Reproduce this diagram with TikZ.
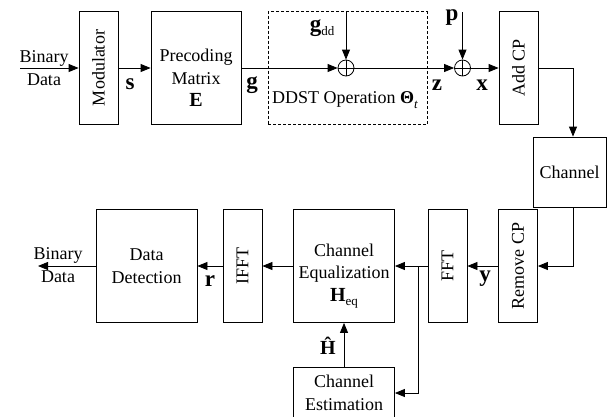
\documentclass[tikz,border=0pt]{standalone}
\usepackage{fontspec}
\setmainfont{Liberation Serif}
\usetikzlibrary{arrows.meta}
\newcommand{\vb}[1]{{\fontsize{23}{23}\selectfont\textbf{#1}}}
\newcommand{\lowsub}[1]{\raisebox{-0.55ex}{\fontsize{13}{13}\selectfont #1}}
\begin{document}
\begin{tikzpicture}[x=1pt,y=-1pt,line width=0.8pt,
  font=\fontsize{18}{22.5}\selectfont,
  blk/.style={draw, rectangle, inner sep=0pt, align=center},
  vblk/.style={blk, minimum width=39pt, minimum height=113pt},
  wblk/.style={blk, minimum width=101pt, minimum height=113pt},
  txt/.style={align=center, inner sep=0pt},
  adder/.style={draw, circle, inner sep=0pt, minimum size=16pt},
  arr/.style={-{Triangle[length=10pt,width=8pt]}}]
\useasboundingbox (0,0) rectangle (610,416);
% transmitter
\node[vblk] (mod) at (98.5,68){\rotatebox{90}{Modulator}};
\node[blk, minimum width=90pt, minimum height=113pt] (prec) at (196,68){};
\node[txt] (prectxt) at (196,78){Precoding\\Matrix\\{\fontsize{20}{20}\selectfont\textbf{E}}};
\node[blk, dashed, dash pattern=on 3pt off 2pt, minimum width=159pt, minimum height=113pt] (ddst) at (347.5,68){};
\node (ddstlab) at (345,100){DDST Operation \textbf{Θ}\lowsub{\textit{t}}};
\node[adder] (sum1) at (346,68){};
\draw (sum1.north) -- (sum1.south) (sum1.west) -- (sum1.east);
\node[adder] (sum2) at (462.5,68){};
\draw (sum2.north) -- (sum2.south) (sum2.west) -- (sum2.east);
\node[vblk] (addcp) at (518.5,68){\rotatebox{90}{Add CP}};
\node[blk, minimum width=73pt, minimum height=70pt] (chan) at (569.5,172){Channel};
% receiver
\node[vblk] (rmcp) at (518,266){\rotatebox{90}{Remove CP}};
\node[vblk] (fft) at (447.5,266){\rotatebox{90}{FFT}};
\node[wblk] (eq) at (344,266){};
\node[txt] (eqtxt) at (344,276){Channel\\Equalization\\{\fontsize{20}{20}\selectfont\textbf{H}}\lowsub{eq}};
\node[vblk] (ifft) at (242.5,266){\rotatebox{90}{IFFT}};
\node[wblk] (det) at (146.5,266){Data\\Detection};
\node[blk, minimum width=101pt, minimum height=52pt] (est) at (344,393){Channel\\Estimation};
% end points
\coordinate (in) at (20,68);
\coordinate (out) at (38,266);
\coordinate (gdd) at (346,12);
\coordinate (pin) at (462.5,12);
\coordinate (c1) at (573,68);
\coordinate (c2) at (573,207);
\coordinate (c3) at (573,266);
\coordinate (br) at (418,266);
\node[txt] (bin1) at (44,68){Binary\\Data};
\node[txt] (bin2) at (58,265){Binary\\Data};
% connectors
\draw[arr] (in) -- (mod);
\draw[arr] (mod) -- (prec);
\draw[arr] (prec) -- (sum1);
\draw[arr] (gdd) -- (sum1);
\draw[arr] (sum1) -- (sum2);
\draw[arr] (pin) -- (sum2);
\draw[arr] (sum2) -- (addcp);
\draw[arr] (addcp.east) -- (c1) -- (c1 |- chan.north);
\draw[arr] (c2) -- (c3) -- (rmcp.east);
\draw[arr] (rmcp) -- (fft);
\draw[arr] (fft) -- (eq);
\draw[arr] (br) |- (est.east);
\draw[arr] (est) -- (eq);
\draw[arr] (eq) -- (ifft);
\draw[arr] (ifft) -- (det);
\draw[arr] (det) -- (out);
% signal labels
\node (ls) at (130,84){\vb{s}};
\node (lg) at (252,85){\vb{g}};
\node (lgdd) at (322,28){\vb{g}\lowsub{dd}};
\node (lp) at (452,18){\vb{p}};
\node (lz) at (437,85){\vb{z}};
\node (lx) at (482,85){\vb{x}};
\node (ly) at (485,279){\vb{y}};
\node (lr) at (210,281){\vb{r}};
\node (lh) at (328,346){{\fontsize{20}{20}\selectfont\textbf{Ĥ}}};
\end{tikzpicture}
\end{document}
